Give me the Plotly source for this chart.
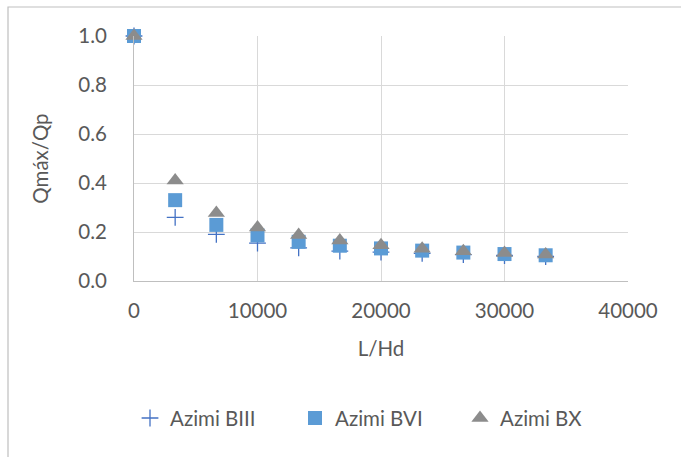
import plotly.graph_objects as go

# L/Hd values shared by all three series
l_hd = [0, 3333, 6667, 10000, 13333, 16667, 20000, 23333, 26667, 30000, 33333]

# Qmáx/Qp ratios per method
azimi_biii = [1.0, 0.26, 0.19, 0.155, 0.135, 0.122, 0.118, 0.113, 0.108, 0.104, 0.100]
azimi_bvi = [1.0, 0.33, 0.229, 0.186, 0.16, 0.144, 0.133, 0.124, 0.116, 0.11, 0.105]
azimi_bx = [1.0, 0.41, 0.278, 0.218, 0.188, 0.165, 0.146, 0.132, 0.121, 0.114, 0.108]

x_ticks = [0, 10000, 20000, 30000, 40000]
y_ticks = [0.0, 0.2, 0.4, 0.6, 0.8, 1.0]

FONT = "Lato, 'Open Sans', sans-serif"
TXT = "#595959"
FS = 20.5

fig = go.Figure()
fig.add_trace(go.Scatter(
    x=l_hd, y=azimi_biii, mode="markers", name="Azimi BIII",
    marker=dict(symbol="cross-thin", size=12, color="#4472C4",
                line=dict(color="#4472C4", width=1.3)),
))
fig.add_trace(go.Scatter(
    x=l_hd, y=azimi_bvi, mode="markers", name="Azimi BVI",
    marker=dict(symbol="square", size=14, color="#5B9BD5",
                line=dict(width=0)),
))
fig.add_trace(go.Scatter(
    x=l_hd, y=azimi_bx, mode="markers", name="Azimi BX",
    marker=dict(symbol="triangle-up", size=15, color="#8C8C8C",
                line=dict(width=0)),
))

fig.update_layout(
    width=681, height=457,
    margin=dict(l=134, r=53, t=36, b=176),
    paper_bgcolor="white", plot_bgcolor="white",
    font=dict(family=FONT, size=FS, color=TXT),
    showlegend=True,
    legend=dict(
        orientation="h", xref="container", yref="container",
        x=130 / 681, xanchor="left", y=0.085, yanchor="middle",
        font=dict(family=FONT, size=FS, color=TXT),
        entrywidth=120, entrywidthmode="pixels",
        itemclick=False,
    ),
    xaxis=dict(
        range=[0, 40000], tickvals=x_ticks, ticktext=[str(v) for v in x_ticks],
        showgrid=True, gridcolor="#D9D9D9", gridwidth=1,
        zeroline=False, showline=True, linecolor="#BFBFBF", linewidth=1,
        ticks="", ticklabelstandoff=11,
        tickfont=dict(family=FONT, size=FS, color=TXT),
        title=dict(text="L/Hd", standoff=21,
                   font=dict(family=FONT, size=FS, color=TXT)),
    ),
    yaxis=dict(
        range=[0, 1.0], tickvals=y_ticks, ticktext=[f"{v:.1f}" for v in y_ticks],
        showgrid=True, gridcolor="#D9D9D9", gridwidth=1,
        zeroline=False, showline=True, linecolor="#BFBFBF", linewidth=1,
        ticks="", ticklabelstandoff=22,
        tickfont=dict(family=FONT, size=FS, color=TXT),
        title=dict(text="Qmáx/Qp", standoff=24,
                   font=dict(family=FONT, size=FS, color=TXT)),
    ),
    shapes=[dict(
        type="rect", xref="paper", yref="paper",
        x0=(8 - 134) / 494, x1=(690 - 134) / 494,
        y0=(281 - 470) / 245, y1=(281 - 7) / 245,
        line=dict(color="#BFBFBF", width=1.2), fillcolor="rgba(0,0,0,0)",
        layer="below",
    )],
)

fig.update_traces(cliponaxis=False)
fig.write_html("out.html")
